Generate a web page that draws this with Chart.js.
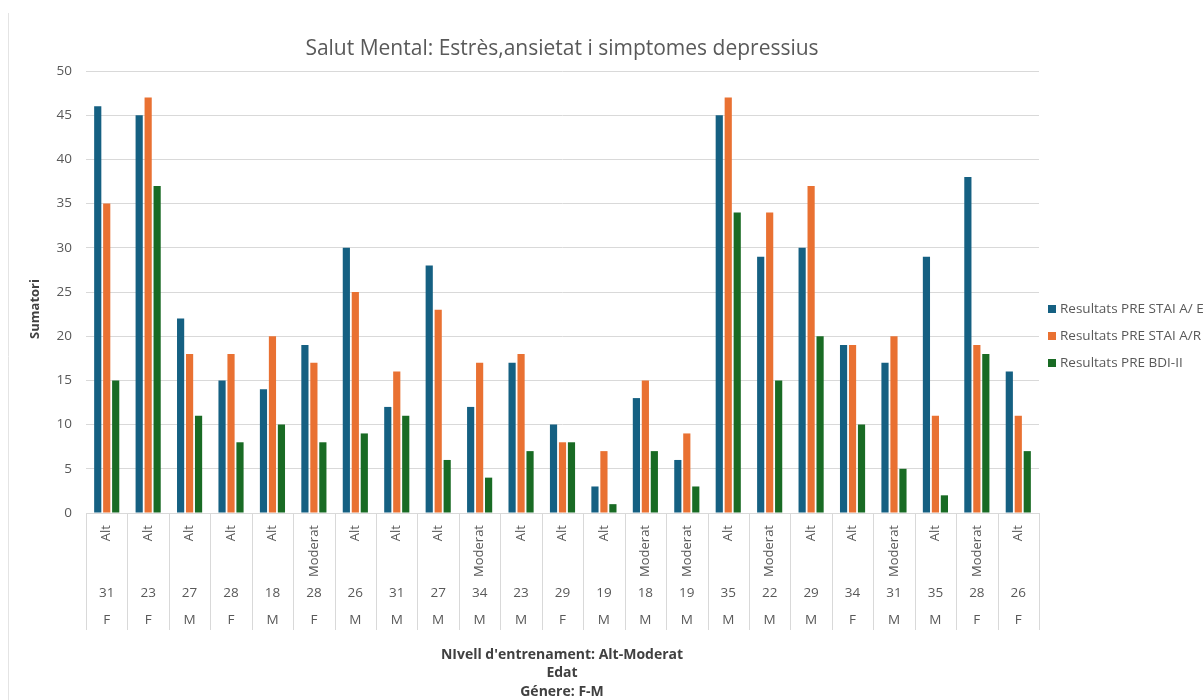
<!DOCTYPE html>
<html>
<head>
<meta charset="utf-8">
<title>Salut Mental</title>
<script src="https://cdn.jsdelivr.net/npm/chart.js@4/dist/chart.umd.min.js"></script>
<style>
  html, body { margin: 0; padding: 0; background: #ffffff; }
  #wrap { width: 1204px; height: 700px; position: relative; }
</style>
</head>
<body>
<div id="wrap"><canvas id="chart" width="1204" height="700"></canvas></div>
<script>
// Category levels (level / age / gender), one entry per participant
const levels = ["Alt", "Alt", "Alt", "Alt", "Alt", "Moderat", "Alt", "Alt", "Alt", "Moderat", "Alt", "Alt",
  "Alt", "Moderat", "Moderat", "Alt", "Moderat", "Alt", "Alt", "Moderat", "Alt", "Moderat", "Alt"];
const ages = [31, 23, 27, 28, 18, 28, 26, 31, 27, 34, 23, 29, 19, 18, 19, 35, 22, 29, 34, 31, 35, 28, 26];
const genders = ["F", "F", "M", "F", "M", "F", "M", "M", "M", "M", "M", "F", "M", "M", "M", "M", "M", "M",
  "F", "M", "M", "F", "F"];

// Series values
const staiE = [46, 45, 22, 15, 14, 19, 30, 12, 28, 12, 17, 10, 3, 13, 6, 45, 29, 30, 19, 17, 29, 38, 16];
const staiR = [35, 47, 18, 18, 20, 17, 25, 16, 23, 17, 18, 8, 7, 15, 9, 47, 34, 37, 19, 20, 11, 19, 11];
const bdi = [15, 37, 11, 8, 10, 8, 9, 11, 6, 4, 7, 8, 1, 7, 3, 34, 15, 20, 10, 5, 2, 18, 7];

const seriesNames = ["Resultats PRE STAI A/ E", "Resultats PRE STAI A/R", "Resultats PRE BDI-II"];
const seriesColors = ["#156082", "#E97132", "#196B24"];

const yTicks = [0, 5, 10, 15, 20, 25, 30, 35, 40, 45, 50];
const titleText = "Salut Mental: Estrès,ansietat i simptomes depressius";
const yTitle = "Sumatori";
const xTitles = ["NIvell d'entrenament: Alt-Moderat", "Edat", "Génere: F-M"];

const FONT = "'Open Sans', 'Liberation Sans', sans-serif";
const TEXT = "#595959";
const GRID = "#d9d9d9";

const labels = ages.map((a, i) => [levels[i], String(a), genders[i]]);

// Draws title, y-axis title, legend and the three-row category table
const decorations = {
  id: "decorations",
  afterDraw(chart) {
    const ctx = chart.ctx;
    const area = chart.chartArea;
    const x = chart.scales.x;
    const n = labels.length;
    const step = (area.right - area.left) / n;
    ctx.save();

    // outer frame line on the left
    ctx.strokeStyle = "#e4e4e4";
    ctx.lineWidth = 1;
    ctx.beginPath();
    ctx.moveTo(8.5, 13);
    ctx.lineTo(8.5, 700);
    ctx.stroke();

    // title
    ctx.fillStyle = TEXT;
    ctx.font = "21px " + FONT;
    ctx.textAlign = "center";
    ctx.textBaseline = "middle";
    ctx.fillText(titleText, 562, 49);

    // y-axis title
    ctx.save();
    ctx.translate(35, 309);
    ctx.rotate(-Math.PI / 2);
    ctx.font = "bold 13px " + FONT;
    ctx.fillStyle = "#404040";
    ctx.fillText(yTitle, 0, 0);
    ctx.restore();

    // category table separators
    ctx.strokeStyle = GRID;
    ctx.lineWidth = 1;
    for (let i = 0; i <= n; i++) {
      const px = Math.round(area.left + i * step) + 0.5;
      ctx.beginPath();
      ctx.moveTo(px, area.bottom);
      ctx.lineTo(px, 630);
      ctx.stroke();
    }

    // category labels
    ctx.fillStyle = TEXT;
    for (let i = 0; i < n; i++) {
      const cx = x.getPixelForValue(i);
      ctx.save();
      ctx.translate(cx, 525);
      ctx.rotate(-Math.PI / 2);
      ctx.font = "13px " + FONT;
      ctx.textAlign = "right";
      ctx.textBaseline = "middle";
      ctx.fillText(levels[i], 0, 0);
      ctx.restore();
      ctx.font = "13.5px " + FONT;
      ctx.textAlign = "center";
      ctx.textBaseline = "middle";
      ctx.fillText(String(ages[i]), cx, 593);
      ctx.fillText(genders[i], cx, 620);
    }

    // x-axis titles
    ctx.fillStyle = "#404040";
    ctx.font = "bold 14px " + FONT;
    ctx.textAlign = "center";
    xTitles.forEach((t, k) => ctx.fillText(t, 562, 655 + k * 18.5));

    // legend
    ctx.font = "13.5px " + FONT;
    ctx.textAlign = "left";
    seriesNames.forEach((name, k) => {
      const ly = 309 + k * 27;
      ctx.fillStyle = seriesColors[k];
      ctx.fillRect(1048, ly - 4, 8, 8);
      ctx.fillStyle = TEXT;
      ctx.fillText(name, 1060, ly);
    });

    ctx.restore();
  }
};

new Chart(document.getElementById("chart").getContext("2d"), {
  type: "bar",
  data: {
    labels: labels,
    datasets: [
      { label: seriesNames[0], data: staiE, backgroundColor: seriesColors[0] },
      { label: seriesNames[1], data: staiR, backgroundColor: seriesColors[1] },
      { label: seriesNames[2], data: bdi, backgroundColor: seriesColors[2] },
    ],
  },
  options: {
    responsive: false,
    animation: false,
    categoryPercentage: 0.65,
    barPercentage: 0.8,
    layout: {
      padding: { top: 71, right: 165, bottom: 187, left: 0 },
    },
    scales: {
      x: {
        ticks: { display: false },
        grid: { display: false, drawTicks: false },
        border: { display: false },
        afterFit: (scale) => { scale.height = 0; },
      },
      y: {
        min: 0,
        max: 50,
        afterFit: (scale) => { scale.width = 86; },
        afterBuildTicks: (scale) => { scale.ticks = yTicks.map((v) => ({ value: v })); },
        ticks: {
          color: TEXT,
          padding: 14,
          font: { family: FONT, size: 13.5 },
        },
        grid: { color: GRID, drawTicks: false },
        border: { display: false },
      },
    },
    plugins: {
      legend: { display: false },
      title: { display: false },
      tooltip: { enabled: true },
    },
  },
  plugins: [decorations],
});
</script>
</body>
</html>
